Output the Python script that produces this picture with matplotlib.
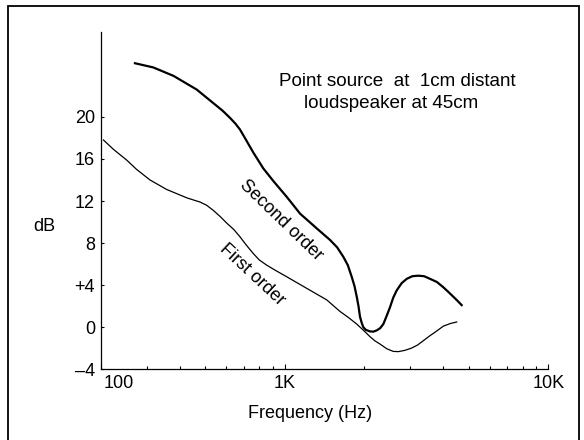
#!/usr/bin/env python
# coding=UTF-8

import matplotlib
matplotlib.use('Agg')
import matplotlib.pyplot as plt
import matplotlib.transforms as mtransforms
from matplotlib.patches import Rectangle
from matplotlib.ticker import FixedLocator, NullFormatter

plt.rcParams['font.family'] = ['Liberation Sans', 'DejaVu Sans']

##########################################################################
# data
second_freq = [270, 317, 378, 463, 536, 580, 620, 650, 676, 717, 760, 829,
               905, 1017, 1143, 1322, 1485, 1580, 1668, 1735, 1795, 1840,
               1876, 1905, 1930, 1960, 1987, 2030, 2107, 2170, 2234, 2300,
               2367, 2430, 2509, 2580, 2660, 2780, 2904, 3050, 3213, 3380,
               3560, 3780, 3998, 4180, 4364, 4530, 4694]
second_db = [25.1, 24.7, 23.9, 22.6, 21.3, 20.6, 19.9, 19.35, 18.8, 17.7,
             16.6, 15.1, 13.9, 12.4, 10.8, 9.4, 8.3, 7.6, 6.7, 5.9, 4.8, 3.9,
             2.9, 2.0, 1.0, 0.4, 0.0, -0.25, -0.4, -0.42, -0.3, -0.1,
             0.3, 1.0, 1.9, 2.8, 3.5, 4.2, 4.6, 4.85, 4.9, 4.85,
             4.6, 4.3, 3.8, 3.35, 2.9, 2.5, 2.1]

first_freq = [205, 224, 251, 274, 308, 356, 425, 450, 477, 505, 536, 570, 602,
              640, 676, 715, 760, 800, 854, 930, 1017, 1211, 1443, 1621,
              1750, 1876, 1990, 2107, 2200, 2299, 2440, 2582, 2700, 2855,
              3020, 3190, 3370, 3560, 3780, 3998, 4250, 4494]
first_db = [17.8, 16.9, 15.9, 15.0, 14.0, 13.1, 12.3, 12.1, 11.9, 11.6, 11.1,
            10.5, 9.9, 9.3, 8.6, 7.8, 7.0, 6.4, 5.9, 5.35, 4.8, 3.7, 2.6,
            1.5, 0.9, 0.3, -0.3, -0.9, -1.3, -1.6, -2.05, -2.3, -2.32,
            -2.2, -2.0, -1.7, -1.25, -0.8, -0.35, 0.1, 0.35, 0.5]

x_ticks = [200, 1000, 10000]
x_tick_labels = ['100', '1K', '10K']
x_minor = [300, 400, 500, 600, 700, 800, 900,
           2000, 3000, 4000, 5000, 6000, 7000, 8000, 9000]
y_ticks = [-4, 0, 4, 8, 12, 16, 20]
y_tick_labels = ['\u20134', '0', '+4', '8', '12', '16', '20']

##########################################################################
# graph setup
fig = plt.figure(figsize=(5.84, 4.40), dpi=100)
fig.patches.append(Rectangle((8 / 584, -0.02), 571 / 584, 1.006,
                             transform=fig.transFigure, fill=False,
                             edgecolor='black', linewidth=1.3))
ax = fig.add_axes([0.1723, 0.1607, 0.7664, 0.7673])

ax.set_xscale('log')
ax.set_xlim(200, 10000)
ax.set_ylim(-4, 28.1)

for side in ('top', 'right'):
    ax.spines[side].set_visible(False)
for side in ('left', 'bottom'):
    ax.spines[side].set_linewidth(0.9)

ax.xaxis.set_major_locator(FixedLocator(x_ticks))
ax.set_xticklabels(x_tick_labels)
ax.xaxis.set_minor_locator(FixedLocator(x_minor))
ax.xaxis.set_minor_formatter(NullFormatter())
ax.set_yticks(y_ticks)
ax.set_yticklabels(y_tick_labels)

ax.tick_params(axis='both', which='both', direction='in', labelsize=13, width=0.8)
ax.tick_params(axis='x', which='major', length=3.5, pad=4)
ax.tick_params(axis='x', which='minor', length=2.2)
ax.tick_params(axis='y', which='major', length=2.5, pad=4)

# the "100" sits just right of the axis corner
first_lbl = ax.get_xticklabels()[0]
first_lbl.set_ha('left')
first_lbl.set_transform(first_lbl.get_transform() +
                        mtransforms.ScaledTranslation(2 / 72, 0, fig.dpi_scale_trans))

ax.set_xlabel('Frequency (Hz)', fontsize=13, va='center')
ax.xaxis.set_label_coords(0.468, -0.13)
ax.set_ylabel('dB', fontsize=13, rotation=0, va='center', ha='center')
ax.yaxis.set_label_coords(-0.125, 0.424)

##########################################################################
# graph plotting
ax.plot(second_freq, second_db, color='black', linewidth=1.6,
        solid_joinstyle='round')
ax.plot(first_freq, first_db, color='black', linewidth=0.9,
        solid_joinstyle='round')

ax.text(968, 10.2, 'Second order', fontsize=13, rotation=-44,
        rotation_mode='anchor', ha='center', va='center')
ax.text(751, 5.0, 'First order', fontsize=13, rotation=-43,
        rotation_mode='anchor', ha='center', va='center')

ax.text(0.663, 0.852, 'Point source  at  1cm distant', fontsize=13.6,
        transform=ax.transAxes, ha='center', va='center')
ax.text(0.649, 0.787, 'loudspeaker at 45cm', fontsize=13.6,
        transform=ax.transAxes, ha='center', va='center')

##########################################################################
# output
plt.savefig('out.png', dpi=100)
